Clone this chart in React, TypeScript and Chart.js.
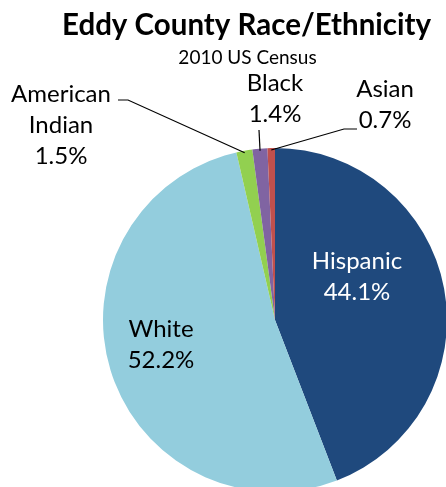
import React, { useEffect, useRef } from "react";
import { Chart, registerables } from "chart.js";

Chart.register(...registerables);

const categories = ["Hispanic", "White", "American Indian", "Black", "Asian"];
const percentages = [44.1, 52.2, 1.5, 1.4, 0.7];
const sliceColors = ["#1F497D", "#93CDDD", "#92D050", "#8064A2", "#C0504D"];
const titleText = "Eddy County Race/Ethnicity";
const subtitleText = "2010 US Census";

// label layout: text center x and first baseline y relative to pie center; optional leader elbow
const labelLayout = [
  { dx: 82, dy: -51, color: "#FFFFFF", leader: null },
  { dx: -114, dy: 17, color: "#000000", leader: null },
  { dx: -214, dy: -218, color: "#000000", leader: { ex: -147, ey: -220, tx: -157 } },
  { dx: 0, dy: -229, color: "#000000", leader: { ex: -16, ey: -190, tx: -16 } },
  { dx: 110, dy: -223, color: "#000000", leader: { ex: 69, ey: -191, tx: 82 } },
];

const FONT = "Lato, 'Open Sans', sans-serif";

export default function App() {
  const ref = useRef<HTMLCanvasElement | null>(null);
  useEffect(() => {
    document.body.style.margin = "0";
    const canvas = ref.current!;
    const labelPlugin = {
      id: "customLabels",
      afterDraw(chart: any) {
        const ctx = chart.ctx as CanvasRenderingContext2D;
        const meta = chart.getDatasetMeta(0);
        const cx = (chart.chartArea.left + chart.chartArea.right) / 2;
        const cy = (chart.chartArea.top + chart.chartArea.bottom) / 2;
        ctx.save();
        // title
        ctx.fillStyle = "#000";
        ctx.textAlign = "center";
        ctx.textBaseline = "alphabetic";
        ctx.font = `bold 29.5px ${FONT}`;
        ctx.fillText(titleText, 246.5, 35);
        ctx.font = `19px ${FONT}`;
        ctx.fillText(subtitleText, 247.5, 64);
        // labels
        ctx.font = `24px ${FONT}`;
        meta.data.forEach((arc: any, i: number) => {
          const lay = labelLayout[i];
          const lines = categories[i].split(" ");
          lines.push(percentages[i].toFixed(1) + "%");
          const x = cx + lay.dx;
          lines.forEach((t, j) => {
            ctx.fillStyle = lay.color;
            ctx.fillText(t, x, cy + lay.dy + j * 31);
          });
          if (lay.leader) {
            const mid = (arc.startAngle + arc.endAngle) / 2;
            const r = arc.outerRadius;
            const sx = arc.x + Math.cos(mid) * (r - 2);
            const sy = arc.y + Math.sin(mid) * (r - 2);
            ctx.strokeStyle = "#000";
            ctx.lineWidth = 1.2;
            ctx.beginPath();
            ctx.moveTo(sx, sy);
            ctx.lineTo(cx + lay.leader.ex, cy + lay.leader.ey);
            ctx.lineTo(cx + lay.leader.tx, cy + lay.leader.ey);
            ctx.stroke();
          }
        });
        ctx.restore();
      },
    };
    const chart = new Chart(canvas, {
      type: "pie",
      data: {
        labels: categories,
        datasets: [
          {
            data: percentages,
            backgroundColor: sliceColors,
            borderWidth: 0,
          },
        ],
      },
      options: {
        animation: false,
        responsive: false,
        devicePixelRatio: 1,
        layout: { padding: { left: 103, top: 148, right: 13, bottom: 8 } },
        plugins: {
          legend: { display: false },
          tooltip: { enabled: false },
          title: { display: false },
        },
      },
      plugins: [labelPlugin],
    });
    return () => chart.destroy();
  }, []);
  return (
    <div
      style={{
        position: "absolute",
        left: 0,
        top: 0,
        width: 446,
        height: 487,
        overflow: "hidden",
        background: "#fff",
      }}
    >
      <canvas ref={ref} width={460} height={500} style={{ width: 460, height: 500, display: "block" }} />
    </div>
  );
}
